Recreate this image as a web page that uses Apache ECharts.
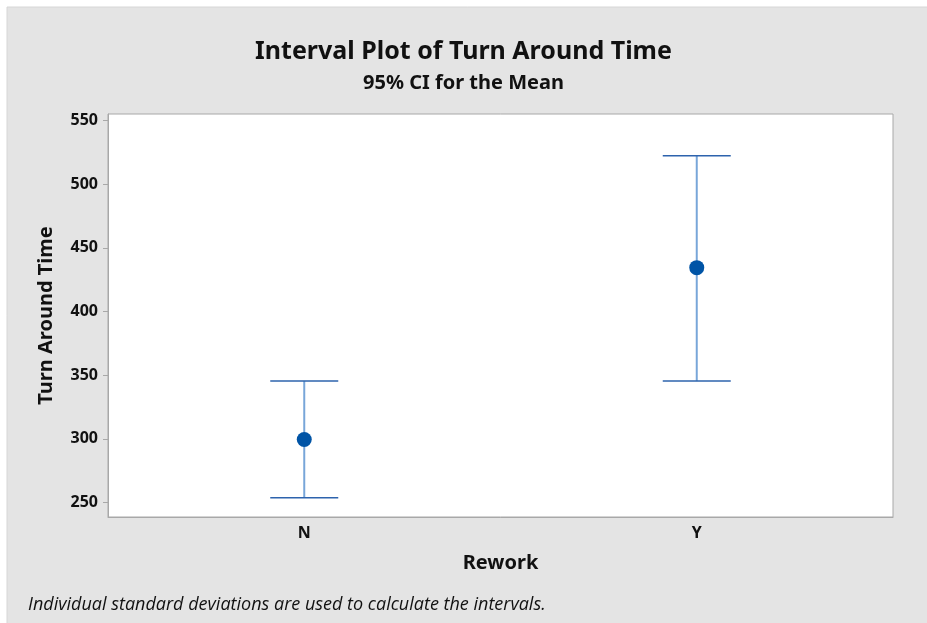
<!DOCTYPE html>
<html>
<head>
<meta charset="utf-8">
<script src="https://cdn.jsdelivr.net/npm/echarts@6/dist/echarts.min.js"></script>
<style>html,body{margin:0;padding:0;background:#fff}#c{width:927px;height:623px}</style>
</head>
<body>
<div id="c"></div>
<script>
var categories = ['N', 'Y'];
var means = [299.5, 434.4];
var lowerCI = [253.9, 345.4];
var upperCI = [345.4, 522.3];
var yTicks = [250, 300, 350, 400, 450, 500, 550];

var FONT = '"Noto Sans", "Open Sans", sans-serif';
var chart = echarts.init(document.getElementById('c'));
var barData = categories.map(function (c, i) { return [i, lowerCI[i], upperCI[i]]; });
var meanData = categories.map(function (c, i) { return [i, means[i]]; });

chart.setOption({
  backgroundColor: '#ffffff',
  animation: false,
  graphic: [
    { type: 'rect', z: -10, shape: { x: 7, y: 7, width: 930, height: 630 },
      style: { fill: '#e4e4e4', stroke: '#d6d6d6', lineWidth: 1 } },
    { type: 'text', left: 28, top: 596,
      style: { text: 'Individual standard deviations are used to calculate the intervals.',
        font: 'italic 18px "Open Sans", sans-serif', fill: '#111' } }
  ],
  title: [
    { text: 'Interval Plot of Turn Around Time', left: 'center', top: 34,
      textStyle: { fontFamily: FONT, fontWeight: 'bold', fontSize: 25, color: '#111' } },
    { text: '95% CI for the Mean', left: 'center', top: 68,
      textStyle: { fontFamily: FONT, fontWeight: 'bold', fontSize: 20, color: '#111' } }
  ],
  grid: { left: 108, top: 114, right: 34, bottom: 106, show: true,
    backgroundColor: '#ffffff', borderColor: '#a8a8a8', borderWidth: 1 },
  xAxis: {
    type: 'category', data: categories, boundaryGap: true,
    name: 'Rework', nameLocation: 'middle', nameGap: 36,
    nameTextStyle: { fontFamily: FONT, fontWeight: 'bold', fontSize: 20, color: '#111' },
    axisLine: { lineStyle: { color: '#a8a8a8' } },
    axisTick: { alignWithLabel: true, length: 5, lineStyle: { color: '#a8a8a8' } },
    axisLabel: { fontFamily: FONT, fontWeight: 'bold', fontSize: 16, color: '#111', margin: 8 },
    splitLine: { show: false }
  },
  yAxis: {
    type: 'value', min: 238.7, max: 555,
    name: 'Turn Around Time', nameLocation: 'middle', nameGap: 52,
    nameTextStyle: { fontFamily: FONT, fontWeight: 'bold', fontSize: 20, color: '#111' },
    axisLine: { show: true, lineStyle: { color: '#a8a8a8' } },
    axisTick: { show: true, length: 5, customValues: yTicks, lineStyle: { color: '#a8a8a8' } },
    axisLabel: { customValues: yTicks, fontFamily: FONT, fontWeight: 'bold', fontSize: 16, color: '#111', margin: 10 },
    splitLine: { show: false }
  },
  series: [
    {
      type: 'custom',
      data: barData,
      renderItem: function (params, api) {
        var x = api.value(0);
        var lo = api.coord([x, api.value(1)]);
        var hi = api.coord([x, api.value(2)]);
        var hw = 34;
        return {
          type: 'group',
          children: [
            { type: 'line', shape: { x1: lo[0], y1: lo[1], x2: hi[0], y2: hi[1] },
              style: { stroke: '#78a6d9', lineWidth: 2 } },
            { type: 'line', shape: { x1: hi[0] - hw, y1: hi[1], x2: hi[0] + hw, y2: hi[1] },
              style: { stroke: '#2d63ad', lineWidth: 1.5 } },
            { type: 'line', shape: { x1: lo[0] - hw, y1: lo[1], x2: lo[0] + hw, y2: lo[1] },
              style: { stroke: '#2d63ad', lineWidth: 1.5 } }
          ]
        };
      },
      z: 2
    },
    {
      type: 'scatter', data: meanData, symbol: 'circle', symbolSize: 15,
      itemStyle: { color: '#0054a6', opacity: 1 }, z: 3
    }
  ]
});
</script>
</body>
</html>
